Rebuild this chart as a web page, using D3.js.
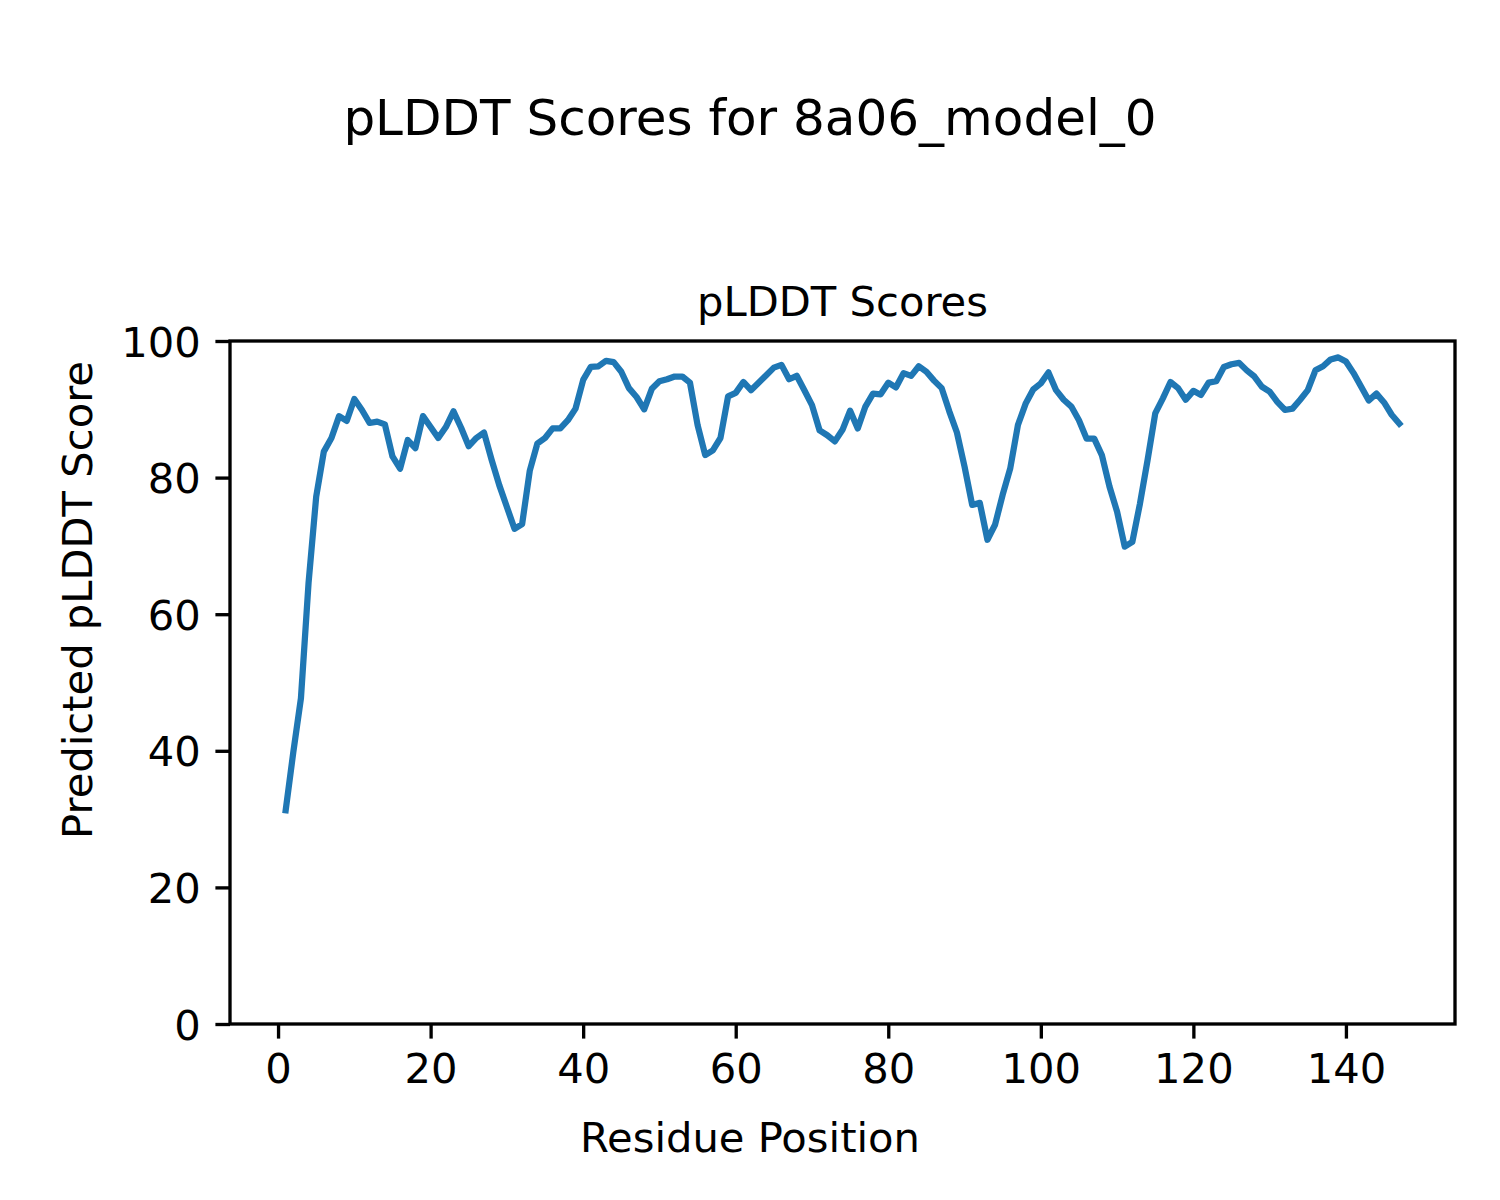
<!DOCTYPE html>
<html>
<head>
<meta charset="utf-8">
<script src="https://cdn.jsdelivr.net/npm/d3@7"></script>
<style>
  html, body { margin: 0; padding: 0; background: #fff; }
  svg { display: block; }
  text { font-family: "DejaVu Sans", sans-serif; fill: #000; }
</style>
</head>
<body>
<svg id="chart" width="1500" height="1200"></svg>
<script>
const figureTitle = "pLDDT Scores for 8a06_model_0";
const axesTitle = "pLDDT Scores";
const xLabel = "Residue Position";
const yLabel = "Predicted pLDDT Score";

const plddt = [
  31.3, 39.8, 47.7, 64.6, 77.2, 83.8, 85.8, 89.0, 88.3, 91.5,
  89.9, 88.0, 88.2, 87.8, 83.1, 81.3, 85.5, 84.3, 89.0, 87.4,
  85.8, 87.4, 89.7, 87.3, 84.6, 85.8, 86.6, 82.6, 78.9, 75.7,
  72.5, 73.2, 81.0, 85.0, 85.8, 87.2, 87.2, 88.4, 90.1, 94.3,
  96.2, 96.3, 97.1, 96.9, 95.5, 93.1, 91.8, 90.0, 93.0, 94.1,
  94.4, 94.8, 94.8, 93.9, 87.7, 83.3, 84.0, 85.8, 91.9, 92.4,
  94.0, 92.8, 93.9, 95.0, 96.1, 96.5, 94.4, 94.9, 92.8, 90.6,
  86.9, 86.2, 85.3, 87.0, 89.8, 87.2, 90.4, 92.3, 92.2, 93.9,
  93.2, 95.3, 94.9, 96.3, 95.5, 94.2, 93.1, 89.7, 86.6, 81.6,
  76.0, 76.3, 70.9, 73.1, 77.5, 81.4, 87.7, 90.8, 92.9, 93.8,
  95.4, 92.8, 91.4, 90.4, 88.4, 85.7, 85.7, 83.3, 78.7, 75.0,
  69.9, 70.6, 76.2, 82.6, 89.4, 91.6, 94.0, 93.1, 91.4, 92.7,
  92.1, 93.9, 94.1, 96.2, 96.6, 96.8, 95.7, 94.8, 93.3, 92.6,
  91.1, 89.9, 90.1, 91.4, 92.8, 95.7, 96.3, 97.3, 97.6, 97.0,
  95.3, 93.3, 91.3, 92.3, 91.0, 89.2, 87.9
];
const residues = d3.range(1, plddt.length + 1);

const xTicks = [0, 20, 40, 60, 80, 100, 120, 140];
const yTicks = [0, 20, 40, 60, 80, 100];

// layout
const W = 1500, H = 1200;
const L = 230, R = 1455, T = 341, B = 1024;
const fs = 41.67, lw = 3.33, tick = 14.6;

const svg = d3.select("#chart");
svg.append("rect").attr("width", W).attr("height", H).attr("fill", "#fff");

const xMin = d3.min(residues), xMax = d3.max(residues);
const xPad = (xMax - xMin) * 0.05;
const x = d3.scaleLinear().domain([xMin - xPad, xMax + xPad]).range([L, R]);
const y = d3.scaleLinear().domain([0, 100]).range([B, T]);

// line
const line = d3.line().x((d, i) => x(residues[i])).y(d => y(d));
svg.append("path")
  .datum(plddt)
  .attr("d", line)
  .attr("fill", "none")
  .attr("stroke", "#1f77b4")
  .attr("stroke-width", 6.25)
  .attr("stroke-linejoin", "round")
  .attr("stroke-linecap", "square");

// axes
const xAxis = svg.append("g")
  .attr("transform", `translate(0,${B})`)
  .call(d3.axisBottom(x).tickValues(xTicks).tickFormat(d3.format("d"))
    .tickSize(tick).tickPadding(tick).tickSizeOuter(0));
const yAxis = svg.append("g")
  .attr("transform", `translate(${L},0)`)
  .call(d3.axisLeft(y).tickValues(yTicks).tickFormat(d3.format("d"))
    .tickSize(tick).tickPadding(tick).tickSizeOuter(0));

[xAxis, yAxis].forEach(g => {
  g.select(".domain").remove();
  g.selectAll(".tick line").attr("stroke", "#000").attr("stroke-width", lw);
  g.selectAll(".tick text")
    .style("font-family", "'DejaVu Sans', sans-serif")
    .style("font-size", fs + "px")
    .attr("fill", "#000");
});
yAxis.selectAll(".tick text").attr("dy", "0.36em");

// frame
svg.append("rect")
  .attr("x", L).attr("y", T)
  .attr("width", R - L).attr("height", B - T)
  .attr("fill", "none")
  .attr("stroke", "#000")
  .attr("stroke-width", lw)
  .attr("stroke-linejoin", "miter");

// titles and labels (figure-level labels centred on the figure)
svg.append("text")
  .attr("x", W / 2).attr("y", 134.5)
  .attr("text-anchor", "middle")
  .style("font-size", "50px")
  .text(figureTitle);

svg.append("text")
  .attr("x", (L + R) / 2).attr("y", 315.5)
  .attr("text-anchor", "middle")
  .style("font-size", fs + "px")
  .text(axesTitle);

svg.append("text")
  .attr("x", W / 2).attr("y", 1152)
  .attr("text-anchor", "middle")
  .style("font-size", fs + "px")
  .text(xLabel);

svg.append("text")
  .attr("transform", `translate(92,${H / 2}) rotate(-90)`)
  .attr("text-anchor", "middle")
  .style("font-size", fs + "px")
  .text(yLabel);
</script>
</body>
</html>
